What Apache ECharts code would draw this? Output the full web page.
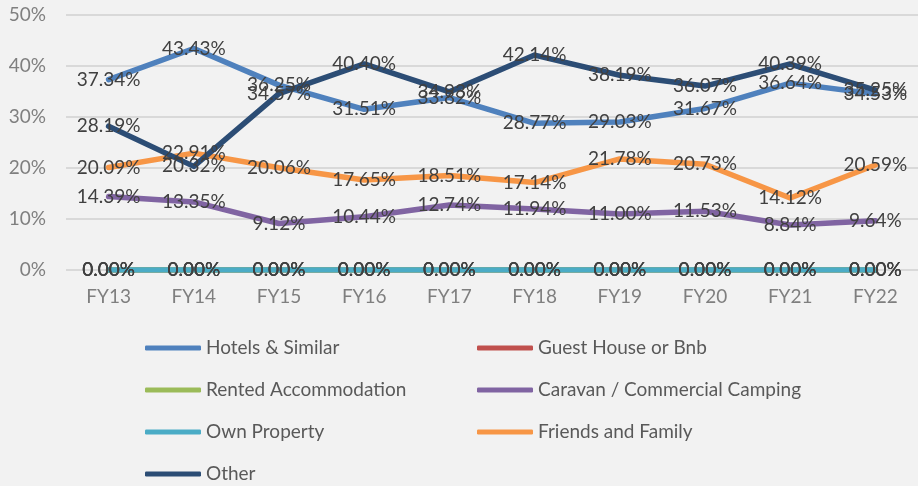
<!DOCTYPE html>
<html>
<head>
<meta charset="utf-8">
<script src="https://cdn.jsdelivr.net/npm/echarts@6/dist/echarts.min.js"></script>
<style>
  html, body { margin: 0; padding: 0; background: #f2f2f2; }
  #chart { width: 918px; height: 486px; }
</style>
</head>
<body>
<div id="chart"></div>
<script>
// categories
const years = ["FY13", "FY14", "FY15", "FY16", "FY17", "FY18", "FY19", "FY20", "FY21", "FY22"];

// series values (%)
const hotels = [37.34, 43.43, 36.25, 31.51, 33.82, 28.77, 29.03, 31.67, 36.64, 34.53];
const guestHouse = [0, 0, 0, 0, 0, 0, 0, 0, 0, 0];
const rented = [0, 0, 0, 0, 0, 0, 0, 0, 0, 0];
const caravan = [14.39, 13.35, 9.12, 10.44, 12.74, 11.94, 11.00, 11.53, 8.84, 9.64];
const ownProperty = [0, 0, 0, 0, 0, 0, 0, 0, 0, 0];
const friends = [20.09, 22.91, 20.06, 17.65, 18.51, 17.14, 21.78, 20.73, 14.12, 20.59];
const other = [28.19, 20.32, 34.57, 40.40, 34.93, 42.14, 38.19, 36.07, 40.39, 35.25];

const FONT = "Lato, 'Liberation Sans', sans-serif";

const seriesDefs = [
  { name: "Hotels & Similar", data: hotels, color: "#4f81bd" },
  { name: "Guest House or Bnb", data: guestHouse, color: "#c0504d" },
  { name: "Rented Accommodation", data: rented, color: "#9bbb59" },
  { name: "Caravan / Commercial Camping", data: caravan, color: "#8064a2" },
  { name: "Own Property", data: ownProperty, color: "#4bacc6" },
  { name: "Friends and Family", data: friends, color: "#f79646" },
  { name: "Other", data: other, color: "#2c4d75" }
];

const chart = echarts.init(document.getElementById("chart"));

// two legend columns, Excel style
const legendBase = {
  orient: "vertical",
  icon: "roundRect",
  itemWidth: 56,
  itemHeight: 5,
  itemGap: 22,
  padding: 0,
  top: 338,
  height: 148,
  textStyle: { color: "#595959", fontSize: 19, fontFamily: FONT, lineHeight: 20 }
};

chart.setOption({
  backgroundColor: "#f2f2f2",
  animation: false,
  grid: { left: 66, top: 15, bottom: 216, width: 857, containLabel: false },
  legend: [
    Object.assign({}, legendBase, {
      left: 145,
      data: ["Hotels & Similar", "Rented Accommodation", "Own Property", "Other"]
    }),
    Object.assign({}, legendBase, {
      left: 477,
      data: ["Guest House or Bnb", "Caravan / Commercial Camping", "Friends and Family"]
    })
  ],
  xAxis: {
    type: "category",
    data: years,
    boundaryGap: true,
    axisLine: { show: false },
    axisTick: { show: false },
    axisLabel: { color: "#7f7f7f", fontSize: 19, fontFamily: FONT, margin: 17 }
  },
  yAxis: {
    type: "value",
    min: 0,
    max: 50,
    interval: 10,
    axisLine: { show: false },
    axisTick: { show: false },
    axisLabel: { color: "#7f7f7f", fontSize: 19, fontFamily: FONT, margin: 20, formatter: "{value}%" },
    splitLine: { lineStyle: { color: "#d9d9d9", width: 2 } }
  },
  series: seriesDefs.map(function (s) {
    return {
      name: s.name,
      type: "line",
      data: s.data,
      color: s.color,
      symbol: "circle",
      symbolSize: 1,
      lineStyle: { width: 5.5, color: s.color, cap: "round", join: "round" },
      itemStyle: { color: s.color },
      label: {
        show: true,
        position: "inside",
        color: "#404040",
        fontSize: 19,
        fontFamily: FONT,
        formatter: function (p) { return p.value.toFixed(2) + "%"; }
      },
      labelLayout: { hideOverlap: false }
    };
  })
});
</script>
</body>
</html>
